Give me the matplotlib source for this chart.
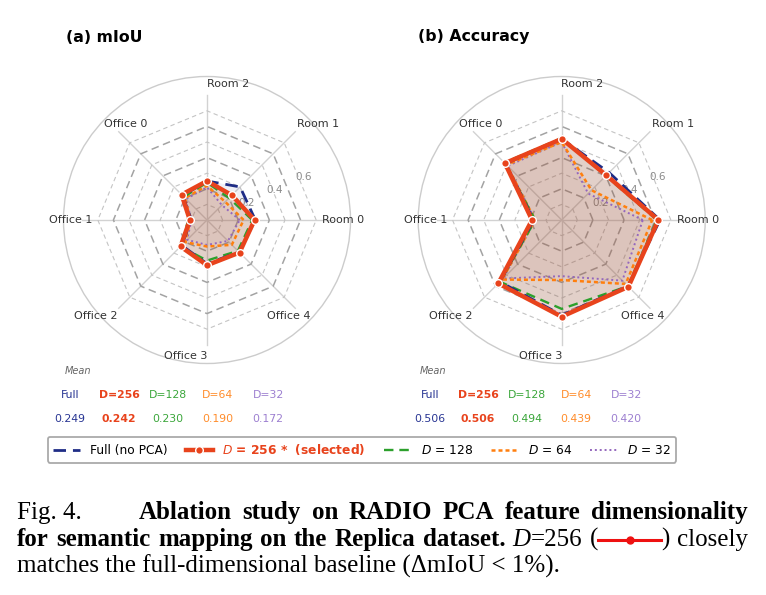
import numpy as np
import matplotlib.pyplot as plt
from matplotlib.lines import Line2D

W, H = 766, 595

categories = ["Room 0", "Room 1", "Room 2", "Office 0",
              "Office 1", "Office 2", "Office 3", "Office 4"]
series = ["Full", "D=256", "D=128", "D=64", "D=32"]

# per-scene values
miou_full = [0.31, 0.30, 0.25, 0.22, 0.10, 0.23, 0.28, 0.29]
miou_256 = [0.305, 0.225, 0.25, 0.23, 0.11, 0.24, 0.29, 0.295]
miou_128 = [0.29, 0.20, 0.24, 0.21, 0.12, 0.24, 0.26, 0.28]
miou_64 = [0.235, 0.165, 0.22, 0.20, 0.105, 0.20, 0.17, 0.225]
miou_32 = [0.21, 0.135, 0.21, 0.19, 0.10, 0.18, 0.16, 0.19]

acc_full = [0.63, 0.43, 0.52, 0.51, 0.18, 0.56, 0.61, 0.60]
acc_256 = [0.62, 0.405, 0.52, 0.515, 0.19, 0.575, 0.62, 0.605]
acc_128 = [0.61, 0.40, 0.525, 0.52, 0.17, 0.56, 0.57, 0.60]
acc_64 = [0.58, 0.27, 0.50, 0.50, 0.17, 0.54, 0.385, 0.58]
acc_32 = [0.52, 0.24, 0.50, 0.49, 0.17, 0.53, 0.36, 0.55]

miou_means = ["0.249", "0.242", "0.230", "0.190", "0.172"]
acc_means = ["0.506", "0.506", "0.494", "0.439", "0.420"]

legend_labels = ["Full (no PCA)", r"$D$ = 256 *  (selected)",
                 r"$D$ = 128", r"$D$ = 64", r"$D$ = 32"]

NAVY = "#1f2d86"
RED = "#e8431c"
GREEN = "#2ca02c"
ORANGE = "#ff7f0e"
PURPLE = "#9467bd"
colors = [NAVY, RED, GREEN, ORANGE, PURPLE]
text_colors = ["#283593", RED, "#3aa63a", "#ff8c2a", "#9c7fd0"]
styles = [
    dict(ls=(0, (4.5, 2.5)), lw=2.0),
    dict(ls="-", lw=3.2),
    dict(ls=(0, (4, 2.5)), lw=1.7),
    dict(ls=(0, (1.6, 1.2)), lw=1.8),
    dict(ls=(0, (1, 1.5)), lw=1.4),
]
fill_alpha = [0.07, 0.15, 0.07, 0.06, 0.06]

angles = np.arange(len(categories)) * 2 * np.pi / len(categories)
closed = np.append(angles, angles[0])


def radar(ax, data, title, title_x):
    ax.set_ylim(0, 0.92)
    ax.set_xticks([])
    ax.set_yticks([])
    ax.grid(False)
    ax.spines["polar"].set_color("#cccccc")
    ax.spines["polar"].set_linewidth(1.0)

    # spokes + polygon grid
    for a in angles:
        ax.plot([a, a], [0, 0.8], color="#d2d2d2", lw=1.0, zorder=1)
    for i, r in enumerate(np.arange(0.1, 0.75, 0.1)):
        if i % 2 == 1:
            ax.plot(closed, [r] * len(closed), color="#a3a3a3", lw=1.1,
                    ls=(0, (5, 3)), zorder=1)
        else:
            ax.plot(closed, [r] * len(closed), color="#c4c4c4", lw=0.8,
                    ls=(0, (4, 3)), zorder=1)
    for v in [0.2, 0.4, 0.6]:
        ax.text(np.deg2rad(24), v + 0.075, f"{v:.1f}", ha="center",
                va="center", fontsize=7.5, color="#8a8a8a", zorder=2)

    for cat, a in zip(categories, angles):
        ax.annotate(cat, xy=(a, 0.872), xytext=(15 * np.sin(a), 0),
                    textcoords="offset points", ha="center", va="center",
                    fontsize=8, color="#333333", annotation_clip=False)

    order = [4, 3, 2, 0, 1]
    for k in order:
        vals = np.append(data[k], data[k][0])
        ax.fill(closed, vals, color=colors[k], alpha=fill_alpha[k], lw=0,
                zorder=3)
    for k in order:
        vals = np.append(data[k], data[k][0])
        z = 6 if k == 1 else 4
        ax.plot(closed, vals, color=colors[k], zorder=z, **styles[k])
    ax.plot(angles, data[1], ls="none", marker="o", ms=5.5, mfc=RED,
            mec="white", mew=1.0, zorder=7)

    fig.text(title_x / W, 1 - 37 / H, title, fontweight="bold",
             fontsize=11.3, ha="left", va="center")


def mean_table(x_cols, x_mean, means):
    fig.text(x_mean / W, 1 - 371 / H, "Mean", fontstyle="italic",
             fontsize=7, color="#666666", ha="left", va="center")
    for x, name, val, c in zip(x_cols, series, means, text_colors):
        fw = "bold" if name == "D=256" else "normal"
        fig.text(x / W, 1 - 395 / H, name, color=c, fontsize=7.8,
                 fontweight=fw, ha="center", va="center")
        fig.text(x / W, 1 - 419 / H, val, color=c, fontsize=7.8,
                 fontweight=fw, ha="center", va="center")


fig = plt.figure(figsize=(W / 100, H / 100), dpi=100)

R_PX = 143.5
for cx, data, title, tx in [
        (207, [miou_full, miou_256, miou_128, miou_64, miou_32], "(a) mIoU", 66),
        (561.7, [acc_full, acc_256, acc_128, acc_64, acc_32], "(b) Accuracy", 418)]:
    ax = fig.add_axes([(cx - R_PX) / W, 1 - (220 + R_PX) / H,
                       2 * R_PX / W, 2 * R_PX / H], projection="polar")
    radar(ax, data, title, tx)

mean_table([70, 119, 168, 218, 268], 65, miou_means)
mean_table([430, 478, 527, 576, 626], 420, acc_means)

handles = []
for k in range(5):
    if k == 1:
        handles.append(Line2D([], [], color=RED, lw=3.2, marker="o", ms=5.5,
                              mfc=RED, mec="white", mew=1.0))
    else:
        handles.append(Line2D([], [], color=colors[k], **styles[k]))
leg = fig.legend(handles, legend_labels, loc="center",
                 bbox_to_anchor=(362 / W, 1 - 449.5 / H), ncol=5,
                 fontsize=8.8, frameon=True, edgecolor="#aaaaaa",
                 framealpha=1, handlelength=2.2, columnspacing=1.5,
                 handletextpad=0.8, borderpad=0.45)
leg.get_frame().set_linewidth(1.3)
leg.get_texts()[1].set_color(RED)
leg.get_texts()[1].set_fontweight("bold")

# ---- caption ----
CAP = dict(family="Liberation Serif", fontsize=18, va="baseline",
           ha="left", color="black")
BOLD = dict(CAP, fontweight="bold")
ITAL = dict(CAP, fontstyle="italic")
SYMBOL_W = 63

renderer = fig.canvas.get_renderer()


def seg_width(seg):
    if seg[0] is None:
        return seg[1]
    t = fig.text(0, 0, seg[0], **seg[1])
    w = t.get_window_extent(renderer).width
    t.remove()
    return w


def caption_line(tokens, x0, x1, y, justify=True):
    widths = [sum(seg_width(s) for s in tok) for tok in tokens]
    if justify and len(tokens) > 1:
        gap = (x1 - x0 - sum(widths)) / (len(tokens) - 1)
    else:
        gap = seg_width((" ", CAP))
    x = x0
    for tok, w in zip(tokens, widths):
        xs = x
        for s in tok:
            sw = seg_width(s)
            if s[0] is None:
                ym = 1 - (y - 6) / H
                fig.add_artist(Line2D([xs / W, (xs + sw) / W], [ym, ym],
                                      transform=fig.transFigure,
                                      color="#ee1111", lw=2.2))
                fig.add_artist(Line2D([(xs + sw / 2) / W], [ym], marker="o",
                                      ms=5, color="#ee1111",
                                      transform=fig.transFigure))
            else:
                fig.text(xs / W, 1 - y / H, s[0], **s[1])
            xs += sw
        x += w + gap


fig.text(17 / W, 1 - 519 / H, "Fig. 4.", **CAP)
line1 = "Ablation study on RADIO PCA feature dimensionality".split()
caption_line([[(w, BOLD)] for w in line1], 139, 748, 519)
line2 = [[(w, BOLD)] for w in
         "for semantic mapping on the Replica dataset.".split()]
line2 += [[("D", ITAL), ("=256", CAP)],
          [("(", CAP), (None, SYMBOL_W), (")", CAP)],
          [("closely", CAP)]]
caption_line(line2, 17, 748, 546)
line3 = "matches the full-dimensional baseline (\u0394mIoU < 1%)."
fig.text(17 / W, 1 - 573 / H, line3, **CAP)

fig.savefig("out.png", dpi=100)
